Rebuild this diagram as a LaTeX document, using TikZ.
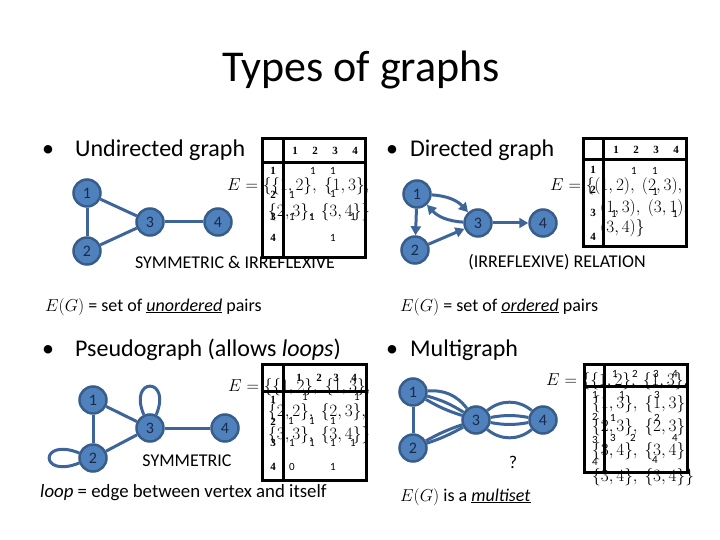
\documentclass[tikz,border=0pt]{standalone}
\usepackage[no-math]{fontspec}
\setmainfont{Carlito}
\newfontfamily\serifdig{Liberation Serif}
\usetikzlibrary{arrows.meta}
\definecolor{nodefill}{HTML}{4F81BD}
\definecolor{nodeline}{HTML}{385D8A}
\definecolor{edgecol}{HTML}{3E659A}
\definecolor{nodetext}{HTML}{1B2A49}
\tikzset{
  vtx/.style={circle, fill=nodefill, draw=nodeline, line width=2.5pt, minimum size=27pt, inner sep=0pt, text=nodetext, font=\fontsize{16}{16}\selectfont},
  ed/.style={draw=edgecol, line width=3pt},
  arr/.style={ed, -{Triangle[length=9pt,width=10pt]}},
  tbl/.style={draw=black, line width=3pt},
  hd/.style={font=\serifdig\bfseries\fontsize{11}{11}\selectfont, inner sep=0pt},
  ent/.style={font=\fontsize{11}{11}\selectfont, inner sep=0pt},
  eset/.style={font=\fontsize{19}{22}\selectfont, inner sep=0pt, anchor=base west},
  esetb/.style={font=\fontsize{18}{22}\selectfont, inner sep=0pt, anchor=base west},
  bul/.style={font=\fontsize{24}{28}\selectfont, inner sep=0pt, anchor=base west},
  note/.style={font=\fontsize{18}{22}\selectfont, inner sep=0pt, anchor=base west},
  captxt/.style={font=\fontsize{18}{20}\selectfont, inner sep=0pt},
}
\begin{document}
\begin{tikzpicture}[x=1pt,y=-1pt]
\useasboundingbox[fill=white] (0,0) rectangle (720,540);
% title
\node[font=\fontsize{44}{48}\selectfont, anchor=base, inner sep=0pt] (title) at (361,82) {Types of graphs};
% bullets
\node[bul] (b1) at (42,157) {•};
\node[bul] (t1) at (75,157) {Undirected graph};
\node[bul] (b2) at (386,157) {•};
\node[bul] (t2) at (410,157) {Directed graph};
\node[bul] (b3) at (42,356) {•};
\node[bul] (t3) at (75,356) {Pseudograph (allows \textit{loops})};
\node[bul] (b4) at (386,356) {•};
\node[bul] (t4) at (410,356) {Multigraph};
% notes
\node[note] (u1) at (45,311) {$E(G)$ = set of \underline{\textit{unordered}} pairs};
\node[note] (u2) at (400,311) {$E(G)$ = set of \underline{\textit{ordered}} pairs};
\node[note, font=\fontsize{18.8}{20}\selectfont] (u3) at (40,497) {\textit{loop} = edge between vertex and itself};
\node[note] (u4) at (400,501) {$E(G)$ is a \underline{\textit{multiset}}};
% captions
\node[captxt] (c1) at (235,262) {SYMMETRIC \& IRREFLEXIVE};
\node[captxt] (c2) at (557,262) {(IRREFLEXIVE) RELATION};
\node[captxt] (c3) at (187,461) {SYMMETRIC};
\node[captxt] (c4) at (513,462) {?};

% ---------- undirected graph
\node[vtx] (n1) at (87,193) {1};
\node[vtx] (n2) at (87,251) {2};
\node[vtx] (n3) at (150,222) {3};
\node[vtx] (n4) at (218,222) {4};
\draw[ed] (n1) -- (n2);
\draw[ed] (n1) -- (n3);
\draw[ed] (n2) -- (n3);
\draw[ed] (n3) -- (n4);

% ---------- directed graph
\node[vtx] (d1) at (417,194) {1};
\node[vtx] (d2) at (415,250) {2};
\node[vtx] (d3) at (478,223) {3};
\node[vtx] (d4) at (543,223) {4};
\draw[arr] (d1) -- (d2);
\draw[arr] (d2) -- (d3);
\draw[arr] (d1) to[bend left=22] (d3);
\draw[arr] (d3) to[bend left=22] (d1);
\draw[arr] (d3) -- (d4);

% ---------- pseudograph
\node[vtx] (p1) at (93,400) {1};
\node[vtx] (p2) at (93,458) {2};
\node[vtx] (p3) at (150,428) {3};
\node[vtx] (p4) at (225,428) {4};
\draw[ed] (p1) -- (p2);
\draw[ed] (p1) -- (p3);
\draw[ed] (p2) -- (p3);
\draw[ed] (p3) -- (p4);
\draw[ed] (p3.115) .. controls +(-16,-38) and +(16,-38) .. (p3.65);
\draw[ed] (p2.160) .. controls +(-40,-16) and +(-40,16) .. (p2.200);

% ---------- multigraph
\node[vtx] (m1) at (413,392) {1};
\node[vtx] (m2) at (413,448) {2};
\node[vtx] (m3) at (476,420) {3};
\node[vtx] (m4) at (543,420) {4};
\draw[ed] (m1) -- (m2);
\draw[ed] (m1) to[bend left=28] (m3);
\draw[ed] (m1) to[bend left=8] (m3);
\draw[ed] (m1) to[bend right=6] (m3);
\draw[ed] (m2) to[bend left=5] (m3);
\draw[ed] (m2) to[bend right=5] (m3);
\draw[ed] (m3) to[bend left=40] (m4);
\draw[ed] (m3) to[bend left=10] (m4);
\draw[ed] (m3) to[bend right=10] (m4);
\draw[ed] (m3) to[bend right=40] (m4);

% ---------- edge sets
\node[eset] (tlE1) at (227,191) {$E=\{\{1,2\},\ \{1,3\},$};
\node[eset] (tlE2) at (268,216) {$\{2,3\},\ \{3,4\}\}$};
\node[eset] (trE1) at (550,191) {$E=\{(1,2),\ (2,3),$};
\node[eset] (trE2) at (600,212) {$(1,3),\ (3,1),$};
\node[eset] (trE3) at (600,233) {$(3,4)\}$};
\node[eset] (blE1) at (228,391) {$E=\{\{1,2\},\ \{1,3\},$};
\node[eset] (blE2) at (268,416) {$\{2,2\},\ \{2,3\},$};
\node[eset] (blE3) at (268,439) {$\{3,3\},\ \{3,4\}\}$};
\node[esetb] (brE1) at (546,385) {$E=\{\{1,2\},\ \{1,3\},$};
\node[esetb] (brE2) at (592,408) {$\{1,3\},\ \{1,3\},$};
\node[esetb] (brE3) at (592,431) {$\{2,3\},\ \{2,3\},$};
\node[esetb] (brE4) at (592,455) {$\{3,4\},\ \{3,4\},$};
\node[esetb] (brE5) at (592,481) {$\{3,4\},\ \{3,4\}\}$};

% ---------- tables
% top-left
\draw[tbl] (262,139) rectangle (365,257);
\draw[tbl] (283,139) -- (283,257);
\draw[tbl] (262,163) -- (365,163);
\foreach \x/\n in {295/1,315/2,335/3,355/4} \node[hd] (tlh\n) at (\x,151) {\n};
\foreach \y/\n in {171/1,195/2,217/3,238/4} \node[hd] (tlr\n) at (273,\y) {\n};
\foreach \x/\y [count=\i] in {313/171,333/171,292/195,333/194,292/217,312/217,353/217,333/238}
  \node[ent] (tle\i) at (\x,\y) {1};
% top-right
\draw[tbl] (583,139) rectangle (686,246);
\draw[tbl] (603,139) -- (603,246);
\draw[tbl] (583,160) -- (686,160);
\foreach \x/\n in {616/1,636/2,656/3,676/4} \node[hd] (trh\n) at (\x,150) {\n};
\foreach \y/\n in {170/1,190/2,213/3,237/4} \node[hd] (trr\n) at (593,\y) {\n};
\foreach \x/\y [count=\i] in {634/171,655/171,655/192,614/214,675/214}
  \node[ent] (tre\i) at (\x,\y) {1};
% bottom-left
\draw[tbl] (262,364) rectangle (366,480);
\draw[tbl] (283,364) -- (283,480);
\draw[tbl] (262,391) -- (366,391);
\foreach \x/\n in {299/1,319/2,336/3,354/4} \node[hd] (blh\n) at (\x,378) {\n};
\foreach \y/\n in {400/1,422/2,443/3,467/4} \node[hd] (blr\n) at (273,\y) {\n};
\foreach \x/\y/\v [count=\i] in {305/397/1,357/397/1,291/421/1,312/421/1,333/421/1,292/443/1,312/443/1,333/443/1,353/443/1,292/467/0,333/467/1}
  \node[ent] (ble\i) at (\x,\y) {\v};
% bottom-right
\draw[tbl] (584,364) rectangle (687,472);
\draw[tbl] (604,364) -- (604,472);
\draw[tbl] (584,386) -- (687,386);
\foreach \x/\n in {615/1,635/2,656/3,675/4} \node[ent] (brh\n) at (\x,374) {\n};
\foreach \y/\n in {395/1,417/2,440/3,462/4} \node[ent] (brr\n) at (595,\y) {\n};
\foreach \x/\y/\v [count=\i] in {622/395/1,657/395/3,613/418/1,657/418/2,613/438/3,633/438/2,675/438/4,655/460/4}
  \node[ent] (bre\i) at (\x,\y) {\v};
\end{tikzpicture}
\end{document}
